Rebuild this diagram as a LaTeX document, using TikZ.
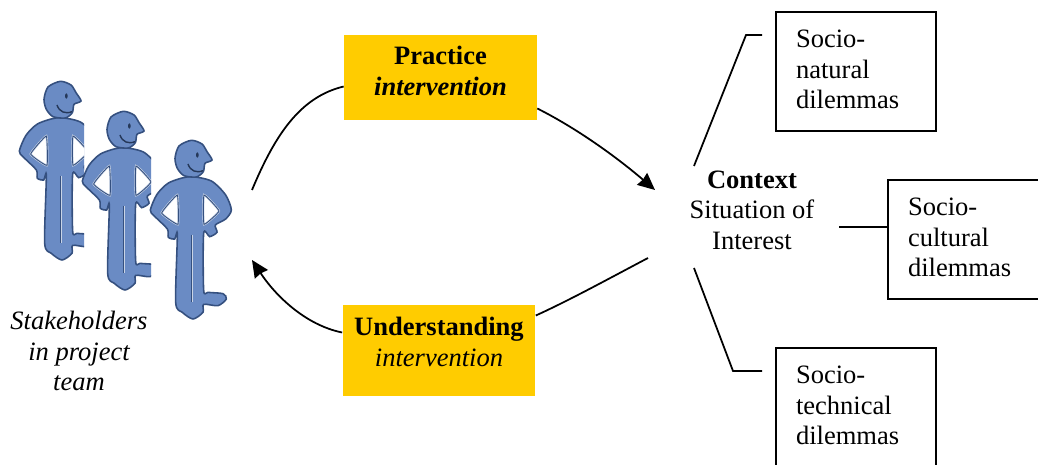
\documentclass[tikz,border=0pt]{standalone}
\usepackage{fontspec}
\setmainfont{Liberation Serif}
\usepackage{xcolor}
\usetikzlibrary{arrows.meta, calc}
\definecolor{figblue}{HTML}{6A8BC4}
\definecolor{figedge}{HTML}{35507F}
\definecolor{figlight}{HTML}{C9D4E6}
\definecolor{interv}{HTML}{FFCC00}
\newcommand{\bodyline}{
    (120,125) (185,138) (228,180) (245,225) (228,252) (197,270) (202,292) (180,305) (162,295)
    (162,465) (175,472) (220,476) (230,492) (205,512) (162,508) (160,532) (130,552)
    (98,532) (78,502) (83,300) (75,312) (56,307) (53,282) (13,242) (2,225) (22,178) (58,143)}
\tikzset{
    label/.style={font=\fontsize{15.1}{17.4}\selectfont, align=center, inner sep=0pt},
    interbox/.style={label, rectangle, fill=interv, minimum width=3.86cm, minimum height=1.7cm},
    dilemma/.style={label, rectangle, draw, line width=1.1pt, align=left, minimum width=3.2cm, minimum height=2.38cm, text width=2.4cm},
    arrow/.style={-{Stealth[length=0.34cm, width=0.31cm, inset=0.6pt]}, line width=1pt},
    link/.style={line width=1pt},
    person/.pic={
        \begin{scope}[scale=1/3, shift={(-130,-75)}]
            % Body
            \draw[figedge, line width=0.9pt, fill=figblue] plot[smooth cycle, tension=0.45] coordinates {\bodyline};
            % Arm gaps
            \draw[figlight, line width=1.2pt, fill=white] plot[smooth cycle, tension=0.2] coordinates {(163,180) (208,228) (163,268)};
            \draw[figedge, line width=0.5pt] plot[smooth cycle, tension=0.2] coordinates {(163,180) (208,228) (163,268)};
            \draw[figlight, line width=1.2pt, fill=white] plot[smooth cycle, tension=0.2] coordinates {(83,180) (36,234) (85,268)};
            \draw[figedge, line width=0.5pt] plot[smooth cycle, tension=0.2] coordinates {(83,180) (36,234) (85,268)};
            % Legs
            \draw[figlight, line width=0.4pt] (127,300) -- (127,500);
            \draw[figedge, line width=0.8pt] (125,300) -- (125,500);
            % Head
            \draw[figedge, line width=0.9pt, fill=figblue] plot[smooth cycle, tension=0.45] coordinates {
                (125,16) (157,27) (172,50) (187,75) (166,85) (161,110) (140,126) (103,122) (83,100) (76,70) (88,33)};
            \fill[figedge!70!black] (143,60) ellipse (4 and 8);
            \draw[figedge!70!black, line width=0.8pt] (115,87) .. controls (122,108) and (140,115) .. (160,107);
        \end{scope}
    }
}

\begin{document}
\begin{tikzpicture}[x=0.02cm, y=-0.02cm]
    \clip (0,0) rectangle (1038,465);
    \useasboundingbox (0,0) rectangle (1038,465);

    % Stakeholders
    \foreach \hx/\hy/\cx in {62/101/84, 125/131/151, 193/160/240} {
        \begin{scope}
            \clip (0,0) rectangle (\cx,465);
            \pic at (\hx,\hy) {person};
        \end{scope}
    }
    \node[label] (team) at (79,351) {\itshape Stakeholders\\\itshape in project\\\itshape team};

    % Interventions
    \node[interbox] (practice) at (440.5,77.5) {\textbf{Practice}\\\textbf{\textit{intervention}}\\[-9.6pt]\mbox{}};
    \node[interbox, minimum height=1.82cm] (understanding) at (439,350.5) {\textbf{Understanding}\\\textit{intervention}\\[-7.4pt]\mbox{}};

    % Context
    \node[label] (context) at (752,210) {\textbf{Context}\\Situation of\\Interest};

    % Dilemmas
    \node[dilemma] (natural) at (856,71.5) {Socio-\\natural\\dilemmas\\[-15.1pt]\mbox{}};
    \node[dilemma] (cultural) at (968,239.5) {Socio-\\cultural\\dilemmas\\[-15.1pt]\mbox{}};
    \node[dilemma] (technical) at (856,407.5) {Socio-\\technical\\dilemmas\\[-15.1pt]\mbox{}};

    % Free ends
    \coordinate (teamout) at (252,190);
    \coordinate (teamin) at (252,260);
    \coordinate (ctxin) at (655,190);
    \coordinate (ctxout) at (648,258);
    \coordinate (ctxup) at (694,166);
    \coordinate (ctxdown) at (694,268);
    \coordinate (ctxmid) at (839,227);
    \coordinate (natend) at (762,35);
    \coordinate (tecend) at (762,371);

    % Connections
    \draw[link] (teamout) .. controls (275,135) and (300,97) .. ($(practice.west)+(0,9)$);
    \draw[arrow] ($(practice.east)+(0,31)$) .. controls (580,130) and (620,160) .. (ctxin);
    \draw[link] (ctxout) .. controls (610,278) and (570,300) .. ($(understanding.east)+(0,-35)$);
    \draw[arrow] ($(understanding.west)+(0,-18)$) .. controls (305,325) and (275,295) .. (teamin);
    \draw[link] (ctxup) -- (746,35) -- (natend);
    \draw[link] (ctxdown) -- (733,371) -- (tecend);
    \draw[link] (ctxmid) -- (ctxmid -| cultural.west);
\end{tikzpicture}
\end{document}
